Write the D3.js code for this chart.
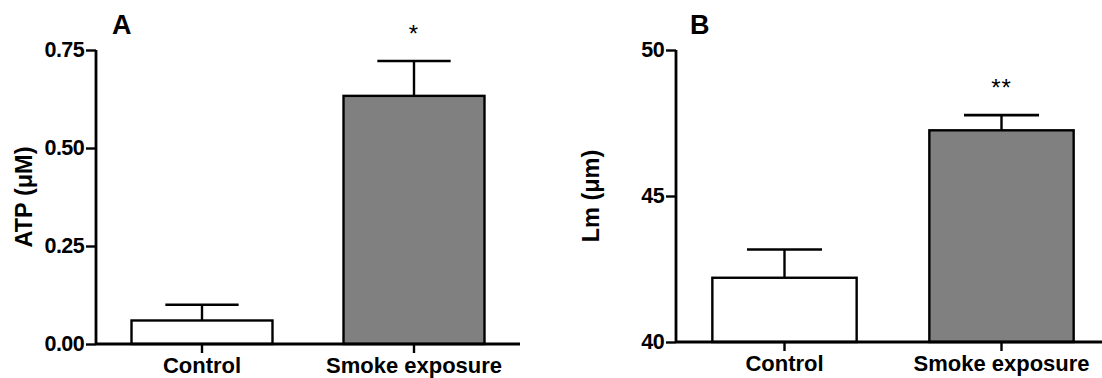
<!DOCTYPE html>
<html><head><meta charset="utf-8">
<script src="https://cdn.jsdelivr.net/npm/d3@7"></script>
<style>body{margin:0;background:#fff}svg{display:block}text{font-family:"Liberation Sans",Arial,sans-serif}</style>
</head><body><svg id="c" width="1102" height="378"></svg>
<script>
const categories = ["Control", "Smoke exposure"];
const atpMean = [0.06, 0.633];
const atpErr = [0.04, 0.089];
const atpTicks = [0, 0.25, 0.5, 0.75];
const lmMean = [42.2, 47.25];
const lmErr = [0.97, 0.52];
const lmTicks = [40, 45, 50];
const atpSig = ["", "*"];
const lmSig = ["", "**"];
const fills = ["#ffffff", "#808080"];

const svg = d3.select("#c");

function panel(cfg) {
  const g = svg.append("g");
  const x = d3.scaleBand().domain(categories).range([cfg.x0, cfg.x1]).paddingInner(0.335).paddingOuter(0.1675);
  const y = d3.scaleLinear().domain(cfg.domain).range([cfg.yBottom, cfg.yTop]);
  const data = categories.map((c, i) => ({c, m: cfg.mean[i], e: cfg.err[i], f: fills[i], s: cfg.sig[i]}));

  g.selectAll("rect.bar").data(data).join("rect")
    .attr("x", d => x(d.c)).attr("width", x.bandwidth())
    .attr("y", d => y(d.m)).attr("height", d => y(cfg.domain[0]) - y(d.m))
    .attr("fill", d => d.f).attr("stroke", "#000").attr("stroke-width", 2.4);
  const cw = x.bandwidth() * 0.52;
  g.selectAll("line.ev").data(data).join("line")
    .attr("x1", d => x(d.c) + x.bandwidth()/2).attr("x2", d => x(d.c) + x.bandwidth()/2)
    .attr("y1", d => y(d.m)).attr("y2", d => y(d.m + d.e))
    .attr("stroke", "#000").attr("stroke-width", 2.4);
  g.selectAll("line.ec").data(data).join("line")
    .attr("x1", d => x(d.c) + x.bandwidth()/2 - cw/2).attr("x2", d => x(d.c) + x.bandwidth()/2 + cw/2)
    .attr("y1", d => y(d.m + d.e)).attr("y2", d => y(d.m + d.e))
    .attr("stroke", "#000").attr("stroke-width", 2.6);
  g.selectAll("text.sig").data(data).join("text")
    .attr("x", d => x(d.c) + x.bandwidth()/2).attr("y", d => y(d.m + d.e) - 19)
    .attr("text-anchor", "middle").attr("font-size", 24).attr("letter-spacing", 1).text(d => d.s);

  const ya = d3.axisLeft(y).tickValues(cfg.ticks).tickFormat(cfg.fmt).tickSize(10).tickPadding(2);
  const yg = g.append("g").attr("transform", `translate(${cfg.x0},0)`).call(ya);
  yg.select(".domain").attr("stroke-width", 2.8).attr("d", `M0,${cfg.yBottom}V${cfg.yTop}`);
  yg.selectAll(".tick line").attr("stroke-width", 2.4);
  yg.selectAll(".tick text").attr("font-size", 21.5).attr("font-weight", "bold").attr("fill", "#000").attr("letter-spacing", -0.6);

  const xa = d3.axisBottom(x).tickSize(9).tickPadding(4);
  const xg = g.append("g").attr("transform", `translate(0,${cfg.yBottom})`).call(xa);
  xg.select(".domain").attr("stroke-width", 2.8).attr("d", `M${cfg.x0},0H${cfg.x1}`);
  xg.selectAll(".tick line").attr("stroke-width", 2.4);
  xg.selectAll(".tick text").attr("font-size", 22).attr("font-weight", "bold").attr("fill", "#000");

  g.append("text").attr("transform", `translate(${cfg.labX},${(cfg.yTop + cfg.yBottom)/2}) rotate(-90)`)
    .attr("text-anchor", "middle").attr("font-size", 23.5).attr("font-weight", "bold").text(cfg.ylab);
  g.append("text").attr("x", cfg.letterX).attr("y", 34).attr("font-size", 27).attr("font-weight", "bold").text(cfg.letter);
}

panel({x0: 96, x1: 520, yTop: 50, yBottom: 344, domain: [0, 0.75], ticks: atpTicks, fmt: d3.format(".2f"),
  mean: atpMean, err: atpErr, sig: atpSig, ylab: "ATP (\u03BCM)", labX: 32, letter: "A", letterX: 112});
panel({x0: 676, x1: 1110, yTop: 50, yBottom: 342, domain: [40, 50], ticks: lmTicks, fmt: d3.format("d"),
  mean: lmMean, err: lmErr, sig: lmSig, ylab: "Lm (\u03BCm)", labX: 599, letter: "B", letterX: 690});
</script></body></html>
